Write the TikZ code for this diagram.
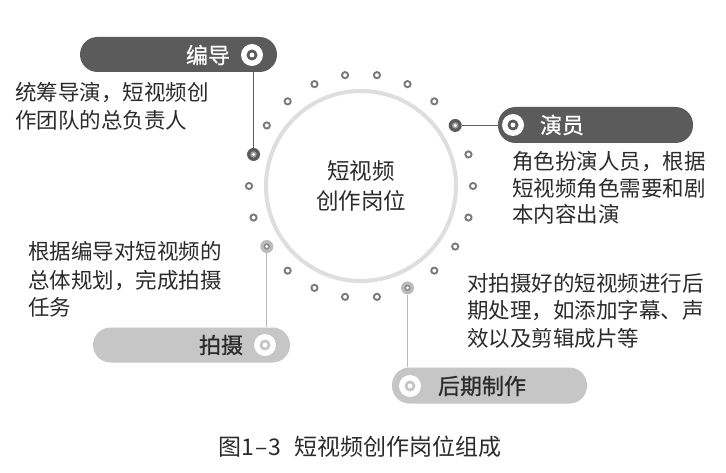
\documentclass[tikz,border=0pt]{standalone}
\usepackage{fontspec}
\setmainfont{Noto Sans CJK SC}
\newfontfamily\medcjk{Noto Sans CJK SC}[FakeBold=0.8]
\definecolor{pilldark}{HTML}{5B5B5B}
\definecolor{pilllight}{HTML}{C6C6C6}
\definecolor{ringgray}{HTML}{DEDEDE}
\definecolor{dotgray}{HTML}{7A7A7A}
\definecolor{txt}{HTML}{2B2B2B}
\definecolor{lightline}{HTML}{B8B8B8}
\definecolor{darkline}{HTML}{5E5E5E}
\definecolor{lightdot}{HTML}{BBBBBB}
\definecolor{lightdotin}{HTML}{8C8C8C}
\begin{document}
\begin{tikzpicture}[x=1pt,y=-1pt,
  descline/.style={anchor=base west, inner sep=0pt, font=\fontsize{21.5}{27}\selectfont, text=txt},
  pill/.style={rectangle, rounded corners=17.5pt, minimum height=35pt, inner sep=0pt},
  pilld/.style={pill, fill=pilldark},
  pilll/.style={pill, fill=pilllight},
  pilltext/.style={inner sep=0pt, font=\fontsize{22}{26}\selectfont\medcjk},
  icon/.style={circle, fill=white, minimum size=22pt, inner sep=0pt},
  smalldot/.style={circle, draw=dotgray, line width=1.9pt, fill=white, minimum size=6.2pt, inner sep=0pt},
  bigdot/.style={circle, minimum size=13pt, inner sep=0pt},
  core/.style={circle, draw=ringgray, line width=4pt, minimum size=190pt, align=center, text=txt, font=\fontsize{22.5}{30}\selectfont},
]
\useasboundingbox (0,0) rectangle (726,473);
\fill[white] (0,0) rectangle (726,473);

% central circle
\node[core] (core) at (361,186) {短视频\\创作岗位};

% ring of dots
\foreach \k in {0,1,2,4,5,6,7,8,10,11,12,13,15,16,18,19,20,21}{
  \pgfmathsetmacro{\a}{81.818-\k*16.3636}
  \node[smalldot] (d\k) at ({361+112*cos(\a)},{186-112*sin(\a)}) {};
}
\node[bigdot, fill=pilldark] (d3) at ({361+112*cos(32.727)},{186-112*sin(32.727)}) {};
\node[bigdot, fill=pilldark] (d17) at ({361+112*cos(163.636)},{186-112*sin(163.636)}) {};
\node[bigdot, fill=lightdot] (d9) at ({361+112*cos(-65.455)},{186-112*sin(-65.455)}) {};
\node[bigdot, fill=lightdot] (d14) at ({361+112*cos(-147.273)},{186-112*sin(-147.273)}) {};
\foreach \n in {d3,d17}{
  \fill[dotgray!70!white] (\n) circle (3.2);
  \fill[white] (\n) circle (1.6);
}
\foreach \n in {d9,d14}{
  \fill[lightdotin] (\n) circle (3.2);
  \fill[white] (\n) circle (1.6);
}

% pills
\node[pilld, minimum width=197pt] (pbd) at (178.5,54.5) {};
\node[pilld, minimum width=195pt, minimum height=36pt] (pyy) at (595.5,125) {};
\node[pilll, minimum width=197pt] (pps) at (191.5,345) {};
\node[pilll, minimum width=195pt, minimum height=36pt] (phq) at (489.5,385.5) {};

% icons
\node[icon] (ibd) at (252,55) {};
\fill[pilldark] (ibd) circle (5.5);
\fill[white] (ibd) circle (2.4);
\node[icon] (iyy) at (513,125) {};
\fill[pilldark] (iyy) circle (5.5);
\fill[white] (iyy) circle (2.4);
\node[icon] (ips) at (265,345) {};
\fill[pilllight] (ips) circle (5.5);
\fill[white] (ips) circle (2.4);
\node[icon] (ihq) at (410,386) {};
\fill[pilllight] (ihq) circle (5.5);
\fill[white] (ihq) circle (2.4);

% pill labels
\node[pilltext, text=white] (tbd) at (208,55) {编导};
\node[pilltext, text=white] (tyy) at (562,125) {演员};
\node[pilltext, text=txt] (tps) at (221,345) {拍摄};
\node[pilltext, text=txt] (thq) at (482,386) {后期制作};

% connectors
\draw[darkline, line width=1pt] (d17) -- (d17 |- pbd.south);
\draw[darkline, line width=1pt] (d3) -- (d3 -| pyy.west);
\draw[lightline, line width=1.2pt] (d14) -- (d14 |- pps.north);
\draw[lightline, line width=1.2pt] (d9) -- (d9 |- phq.north);

% descriptions
\node[descline] (bd1) at (15,100.5) {统筹导演，短视频创};
\node[descline] (bd2) at (15,128.5) {作团队的总负责人};
\node[descline] (yy1) at (512,170) {角色扮演人员，根据};
\node[descline] (yy2) at (512,196.5) {短视频角色需要和剧};
\node[descline] (yy3) at (512,223) {本内容出演};
\node[descline] (ps1) at (28,260) {根据编导对短视频的};
\node[descline] (ps2) at (28,288) {总体规划，完成拍摄};
\node[descline] (ps3) at (28,315.5) {任务};
\node[descline] (hq1) at (467,291.5) {对拍摄好的短视频进行后};
\node[descline] (hq2) at (467,318.5) {期处理，如添加字幕、声};
\node[descline] (hq3) at (467,346) {效以及剪辑成片等};

% caption
\node[inner sep=0pt, text=txt, font=\fontsize{23}{27}\selectfont] (cap) at (360,447) {图1\kern1pt–\kern1pt3\hspace{0.55em}短视频创作岗位组成};
\end{tikzpicture}
\end{document}
